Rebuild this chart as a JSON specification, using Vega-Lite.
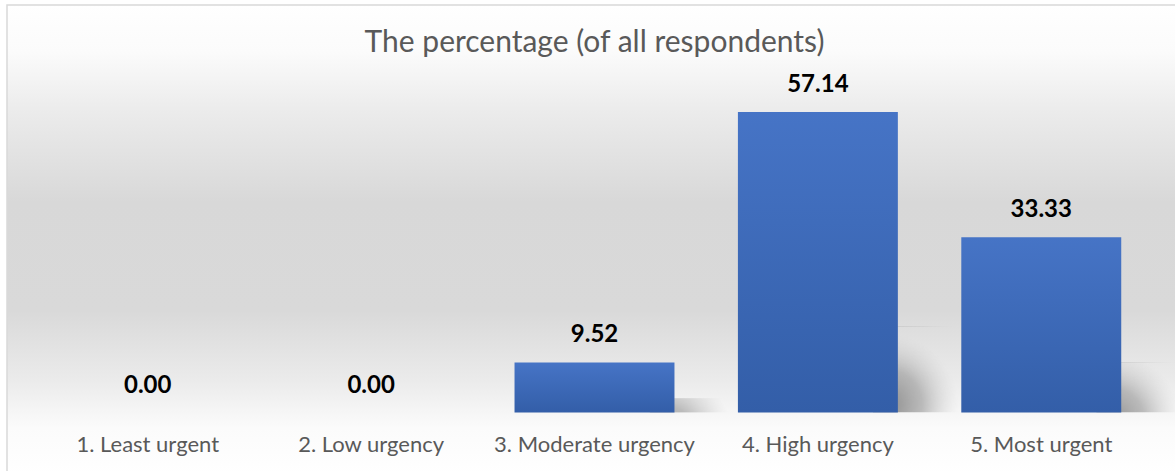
{
  "$schema": "https://vega.github.io/schema/vega-lite/v6.json",
  "width": 1175,
  "height": 470,
  "autosize": {"type": "none"},
  "padding": {"left": 7, "top": 5, "right": 0, "bottom": 0},
  "background": "#ffffff",
  "title": {
    "text": "The percentage (of all respondents)",
    "font": "Lato",
    "fontSize": 30,
    "fontWeight": "normal",
    "color": "#595959",
    "anchor": "middle",
    "frame": "group",
    "baseline": "alphabetic",
    "offset": -77
  },
  "view": {
    "stroke": "#d9d9d9",
    "strokeWidth": 1.5,
    "fill": {
      "gradient": "linear",
      "x1": 0, "y1": 0, "x2": 0, "y2": 1,
      "stops": [
        {"offset": 0, "color": "#ffffff"},
        {"offset": 0.1, "color": "#fbfbfb"},
        {"offset": 0.22, "color": "#ececec"},
        {"offset": 0.42, "color": "#d8d8d8"},
        {"offset": 0.65, "color": "#d9d9d9"},
        {"offset": 0.8, "color": "#ebebeb"},
        {"offset": 0.9, "color": "#fbfbfb"},
        {"offset": 1, "color": "#ffffff"}
      ]
    }
  },
  "data": {
    "values": [
      {"category": "1. Least urgent", "value": 0.00},
      {"category": "2. Low urgency", "value": 0.00},
      {"category": "3. Moderate urgency", "value": 9.52},
      {"category": "4. High urgency", "value": 57.14},
      {"category": "5. Most urgent", "value": 33.33}
    ]
  },
  "encoding": {
    "x": {
      "field": "category",
      "type": "nominal",
      "sort": null,
      "scale": {"paddingInner": 0.284, "paddingOuter": 0.272, "align": 0.5},
      "axis": {
        "title": null,
        "domain": false,
        "ticks": false,
        "labelAngle": 0,
        "labelFont": "Lato",
        "labelFontSize": 22,
        "labelColor": "#595959",
        "labelBaseline": "middle",
        "labelPadding": 0,
        "labelLimit": 0,
        "labelOverlap": false,
        "offset": -31
      }
    }
  },
  "layer": [
    {
      "mark": {
        "type": "bar",
        "width": 90,
        "xOffset": 100,
        "color": {
          "gradient": "radial",
          "x1": 0.15, "y1": 0.9, "r1": 0,
          "x2": 0.15, "y2": 0.9, "r2": 0.8,
          "stops": [
            {"offset": 0, "color": "rgba(120,120,120,0.85)"},
            {"offset": 0.5, "color": "rgba(140,140,140,0.55)"},
            {"offset": 1, "color": "rgba(200,200,200,0)"}
          ]
        }
      },
      "encoding": {
        "y": {
          "field": "value",
          "type": "quantitative",
          "scale": {"domain": [-41.5, 270.6], "nice": false, "zero": false},
          "axis": null
        }
      }
    },
    {
      "mark": {
        "type": "bar",
        "color": {
          "gradient": "linear",
          "x1": 0, "y1": 0, "x2": 0, "y2": 1,
          "stops": [
            {"offset": 0, "color": "#4674c6"},
            {"offset": 1, "color": "#335ea8"}
          ]
        }
      },
      "encoding": {
        "y": {
          "field": "value",
          "type": "quantitative",
          "scale": {"domain": [-11.88, 77.47], "nice": false, "zero": false},
          "axis": null
        }
      }
    },
    {
      "mark": {
        "type": "text",
        "font": "Lato",
        "fontSize": 24,
        "fontWeight": "bold",
        "color": "#000000",
        "baseline": "alphabetic",
        "dy": -20
      },
      "encoding": {
        "y": {
          "field": "value",
          "type": "quantitative",
          "scale": {"domain": [-11.88, 77.47], "nice": false, "zero": false},
          "axis": null
        },
        "text": {"field": "value", "type": "quantitative", "format": ".2f"}
      }
    }
  ],
  "resolve": {"scale": {"y": "independent"}}
}
